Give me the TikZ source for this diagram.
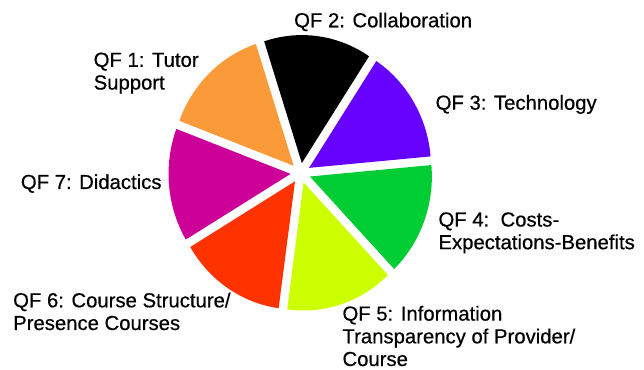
\documentclass[tikz,border=0pt]{standalone}
\usepackage{fontspec}
\setmainfont{Liberation Sans}
\newfontfamily\qffont{Liberation Sans}[FakeBold=0.5]
\usetikzlibrary{calc}

\definecolor{qfone}{RGB}{250,154,56}
\definecolor{qftwo}{RGB}{0,0,0}
\definecolor{qfthree}{RGB}{102,0,255}
\definecolor{qffour}{RGB}{0,204,51}
\definecolor{qffive}{RGB}{204,255,0}
\definecolor{qfsix}{RGB}{255,51,0}
\definecolor{qfseven}{RGB}{204,0,153}

% radii of the pie, and how far each slice is pulled out of the centre
\newcommand\pieRx{122pt}
\newcommand\pieRy{128pt}
\newcommand\pieOff{10pt}

% one pie slice: colour, start angle, end angle
\newcommand\pieSlice[3]{%
  \fill[#1] ($(c)+({(#2+#3)/2}:\pieOff)$) -- ++(#2:\pieRx\space and \pieRy)
    arc[start angle=#2, end angle=#3, x radius=\pieRx, y radius=\pieRy] -- cycle;}

\begin{document}
\begin{tikzpicture}[x=1pt,y=1pt,
  % labels are placed by the baseline of their last line
  qflabel/.style={anchor=base west, inner sep=0pt, align=left,
    font=\qffont\fontsize{20.3}{22.7}\selectfont, text=black}]
\useasboundingbox (0,0) rectangle (644,369);
\coordinate (c) at (300.5,196);

% seven equal slices, 360/7 degrees each
\pieSlice{qftwo}{56.57}{108}
\pieSlice{qfone}{108}{159.43}
\pieSlice{qfseven}{159.43}{210.86}
\pieSlice{qfsix}{210.86}{262.29}
\pieSlice{qffive}{262.29}{313.71}
\pieSlice{qffour}{313.71}{365.14}
\pieSlice{qfthree}{5.14}{56.57}

% labels
\node[qflabel] (l1) at (93.5,279.5) {QF 1: Tutor\\Support};
\node[qflabel] (l2) at (294,341.7) {QF 2: Collaboration};
\node[qflabel] (l3) at (435.5,259.3) {QF 3: Technology};
\node[qflabel] (l4) at (438.3,119.8) {QF 4:\ \ Costs-\\Expectations-Benefits};
\node[qflabel] (l5) at (342.3,3) {QF 5: Information\\Transparency of Provider/\\Course};
\node[qflabel] (l6) at (13,39) {QF 6: Course Structure/\\Presence Courses};
\node[qflabel] (l7) at (20.7,180) {QF 7: Didactics};
\end{tikzpicture}
\end{document}
